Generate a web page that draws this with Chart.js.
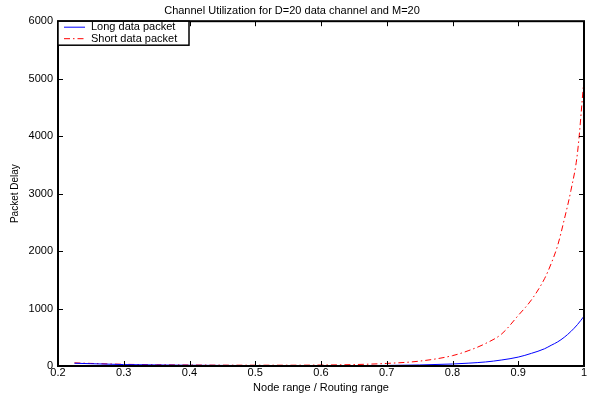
<!DOCTYPE html>
<html>
<head>
<meta charset="utf-8">
<script src="https://cdn.jsdelivr.net/npm/chart.js@4.4.1/dist/chart.umd.min.js"></script>
<style>
  html, body { margin: 0; padding: 0; background: #fff; }
  #wrap { width: 592px; height: 396px; }
</style>
</head>
<body>
<div id="wrap"><canvas id="myChart" width="592" height="396"></canvas></div>
<script>
// node range / routing range
const ratio = [0.225, 0.25, 0.3, 0.35, 0.4, 0.45, 0.5, 0.55, 0.6, 0.65, 0.7, 0.75,
  0.8, 0.825, 0.85, 0.875, 0.9, 0.92, 0.94, 0.95, 0.96, 0.97, 0.98, 0.99, 1.0];
const longDelay = [48, 40, 25, 18, 13, 10, 8, 7, 7, 8, 10, 18,
  35, 50, 70, 105, 155, 220, 300, 360, 420, 500, 600, 720, 866];
const shortDelay = [55, 45, 30, 22, 18, 15, 14, 14, 17, 25, 45, 85,
  180, 270, 390, 560, 880, 1150, 1520, 1780, 2100, 2550, 3050, 3700, 5000];
const yTicks = [0, 1000, 2000, 3000, 4000, 5000, 6000];

const FONT = 'Liberation Sans, Arial, Helvetica, sans-serif';

function pts(ys) {
  return ratio.map((x, i) => ({ x: x, y: ys[i] }));
}

// box round the plot with inward ticks, matlab style
const boxPlugin = {
  id: 'box',
  afterDatasetsDraw(chart) {
    const c = chart.ctx, a = chart.chartArea;
    const xs = chart.scales.x, ys = chart.scales.y;
    const len = 5;
    c.save();
    c.strokeStyle = '#000';
    c.lineWidth = 1;
    c.beginPath();
    xs.ticks.forEach((t) => {
      const px = Math.round(xs.getPixelForValue(t.value)) + 0.5;
      c.moveTo(px, a.bottom); c.lineTo(px, a.bottom - len);
      c.moveTo(px, a.top); c.lineTo(px, a.top + len);
    });
    ys.ticks.forEach((t) => {
      const py = Math.round(ys.getPixelForValue(t.value)) + 0.5;
      c.moveTo(a.left, py); c.lineTo(a.left + len, py);
      c.moveTo(a.right, py); c.lineTo(a.right - len, py);
    });
    c.stroke();
    c.lineWidth = 2;
    c.strokeRect(a.left, a.top, a.right - a.left, a.bottom - a.top);

    // legend in the top-left corner
    const lx = a.left, ly = a.top, lw = 131, lh = 24;
    c.fillStyle = '#fff';
    c.fillRect(lx, ly, lw, lh);
    c.lineWidth = 1.5;
    c.strokeRect(lx, ly, lw, lh);
    c.font = '11px ' + FONT;
    c.textBaseline = 'middle';
    chart.data.datasets.forEach((ds, i) => {
      const y = ly + 6 + i * 11.5;
      c.strokeStyle = ds.borderColor;
      c.lineWidth = 1;
      c.setLineDash(ds.borderDash || []);
      c.beginPath();
      c.moveTo(lx + 6, y); c.lineTo(lx + 27, y);
      c.stroke();
      c.setLineDash([]);
      c.fillStyle = '#000';
      c.fillText(ds.label, lx + 33, y);
    });
    c.restore();
  }
};

const ctx = document.getElementById('myChart');

new Chart(ctx, {
  type: 'line',
  data: {
    datasets: [{
      label: 'Long data packet',
      data: pts(longDelay),
      borderColor: '#0000ff',
      borderWidth: 1,
      pointRadius: 0,
      cubicInterpolationMode: 'monotone'
    }, {
      label: 'Short data packet',
      data: pts(shortDelay),
      borderColor: '#ff0000',
      borderWidth: 1,
      borderDash: [6, 3, 1.5, 3],
      pointRadius: 0,
      cubicInterpolationMode: 'monotone'
    }]
  },
  options: {
    responsive: false,
    animation: false,
    layout: { padding: { left: 0, right: 8, top: 0, bottom: 0 } },
    plugins: {
      legend: { display: false },
      tooltip: { enabled: false },
      title: {
        display: true,
        text: 'Channel Utilization for D=20 data channel and M=20',
        color: '#000',
        font: { family: FONT, size: 11, weight: 'normal' },
        padding: { top: 4, bottom: 4 }
      }
    },
    scales: {
      x: {
        type: 'linear',
        min: 0.2,
        max: 1,
        grid: { display: false, drawTicks: false },
        border: { display: false },
        ticks: {
          stepSize: 0.1,
          color: '#000',
          padding: 0,
          font: { family: FONT, size: 11 },
          callback: (v) => String(Math.round(v * 10) / 10)
        },
        title: {
          display: true,
          text: 'Node range / Routing range',
          color: '#000',
          font: { family: FONT, size: 11 },
          padding: { top: 0, bottom: 1 }
        },
        afterFit: (s) => { s.height = 30; }
      },
      y: {
        min: 0,
        max: 6000,
        grid: { display: false, drawTicks: false },
        border: { display: false },
        afterBuildTicks: (s) => { s.ticks = yTicks.map((v) => ({ value: v })); },
        ticks: {
          color: '#000',
          padding: 5,
          font: { family: FONT, size: 11 },
          callback: (v) => String(v)
        },
        title: {
          display: true,
          text: 'Packet Delay',
          color: '#000',
          font: { family: FONT, size: 10 },
          padding: { top: 9, bottom: 0 }
        },
        afterFit: (s) => { s.width = 58; }
      }
    }
  },
  plugins: [boxPlugin]
});
</script>
</body>
</html>
